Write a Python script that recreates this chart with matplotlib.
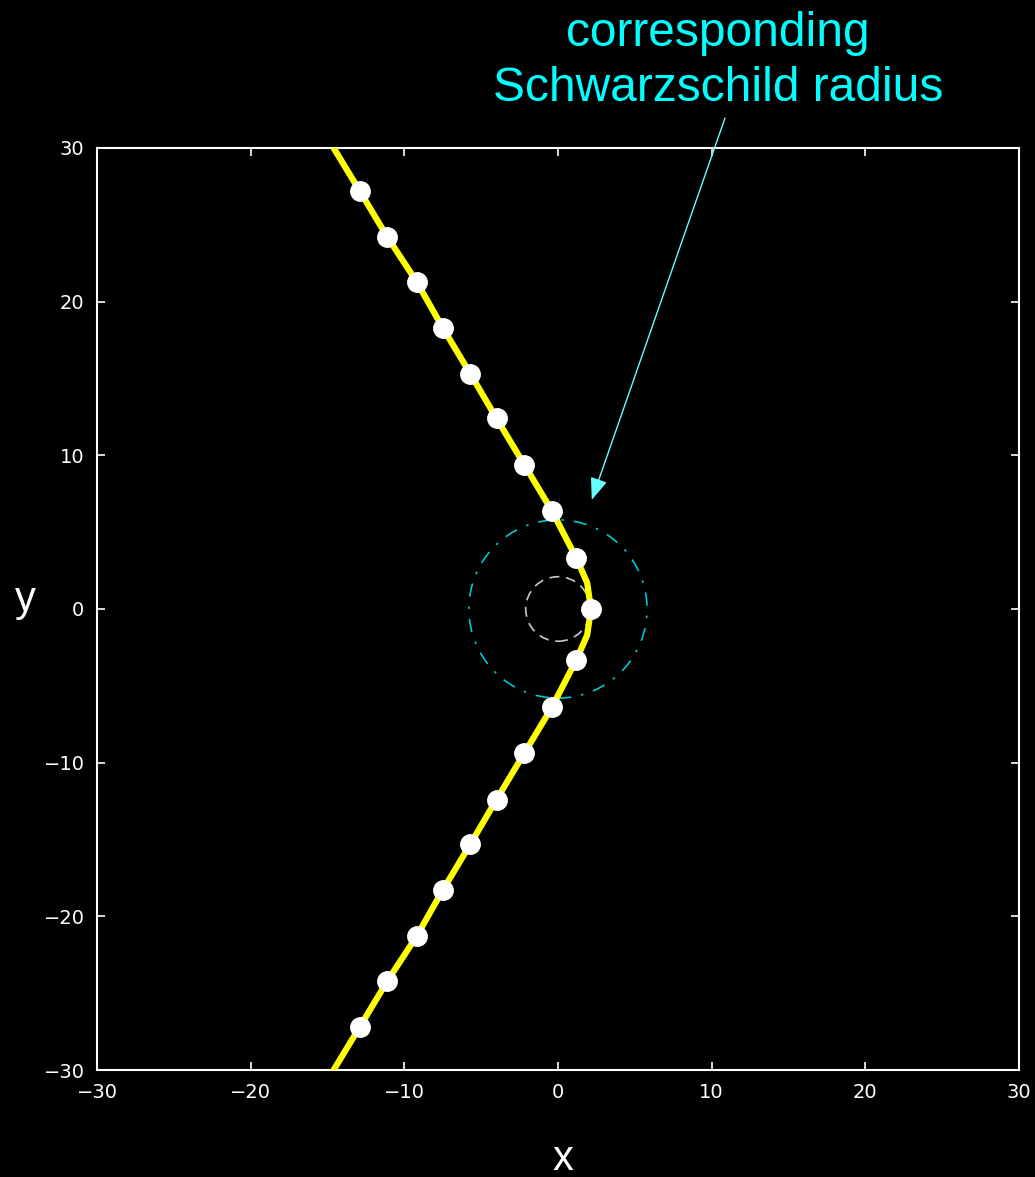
import numpy as np
import matplotlib.pyplot as plt
from matplotlib.patches import Circle

# trajectory points (markers, a few between, ends)
path_x = [-14.6, -12.9, -11.1, -9.2, -7.5, -5.7, -4.0, -2.2, -0.4, 1.2, 1.9, 2.15,
          1.9, 1.2, -0.4, -2.2, -4.0, -5.7, -7.5, -9.2, -11.1, -12.9, -14.6]
path_y = [30.0, 27.2, 24.2, 21.3, 18.3, 15.3, 12.4, 9.4, 6.4, 3.3, 1.7, 0.0,
          -1.7, -3.3, -6.4, -9.4, -12.4, -15.3, -18.3, -21.3, -24.2, -27.2, -30.0]
mark_x = [-12.9, -11.1, -9.2, -7.5, -5.7, -4.0, -2.2, -0.4, 1.2, 2.15,
          1.2, -0.4, -2.2, -4.0, -5.7, -7.5, -9.2, -11.1, -12.9]
mark_y = [27.2, 24.2, 21.3, 18.3, 15.3, 12.4, 9.4, 6.4, 3.3, 0.0,
          -3.3, -6.4, -9.4, -12.4, -15.3, -18.3, -21.3, -24.2, -27.2]

# circles centred on the origin
horizon_r = 2.1
schw_r = 5.8

ticks = [-30, -20, -10, 0, 10, 20, 30]

fig = plt.figure(figsize=(10.35, 11.77), dpi=100, facecolor="black")
ax = fig.add_axes([0.0937, 0.0909, 0.8908, 0.7834], facecolor="black")

ax.plot(path_x, path_y, color="#ffff00", lw=4.5, zorder=3)
ax.plot(mark_x, mark_y, "o", color="white", ms=14, mec="white", zorder=4)

ax.add_patch(Circle((0, 0), schw_r, fill=False, ec="#00c8d0", lw=1.2,
                    ls=(0, (8, 6, 1.5, 6)), zorder=2))
ax.add_patch(Circle((0, 0), horizon_r, fill=False, ec="#c8c8c8", lw=1.2,
                    ls=(0, (6, 4)), zorder=2))

ax.set_xlim(-30, 30)
ax.set_ylim(-30, 30)
ax.set_xticks(ticks)
ax.set_yticks(ticks)
ax.set_xticklabels([f"\u2212{abs(t)}" if t < 0 else str(t) for t in ticks])
ax.set_yticklabels([f"\u2212{abs(t)}" if t < 0 else str(t) for t in ticks])
ax.tick_params(colors="white", direction="in", length=6, width=1.2,
               top=True, right=True, labelsize=14, pad=9)
for s in ax.spines.values():
    s.set_color("white")
    s.set_linewidth(1.5)

fig.text(0.024, 0.490, "y", color="white", fontsize=30, family="Liberation Sans",
         ha="center", va="center")
fig.text(0.544, 0.015, "x", color="white", fontsize=30, family="Liberation Sans",
         ha="center", va="center")

fig.text(718 / 1035, 1 - 61 / 1177, "corresponding\nSchwarzschild radius",
         color="#00ffff", fontsize=34.5, family="Liberation Sans",
         ha="center", va="center", linespacing=1.3)

ax.annotate("", xy=(2.2, 7.1), xytext=(725 / 1035, 1 - 118 / 1177),
            textcoords="figure fraction", annotation_clip=False,
            arrowprops=dict(arrowstyle="-|>,head_length=0.9,head_width=0.35",
                            mutation_scale=15, color="#66ffff", lw=1,
                            shrinkA=0, shrinkB=0))

fig.savefig("out.png", facecolor="black")
